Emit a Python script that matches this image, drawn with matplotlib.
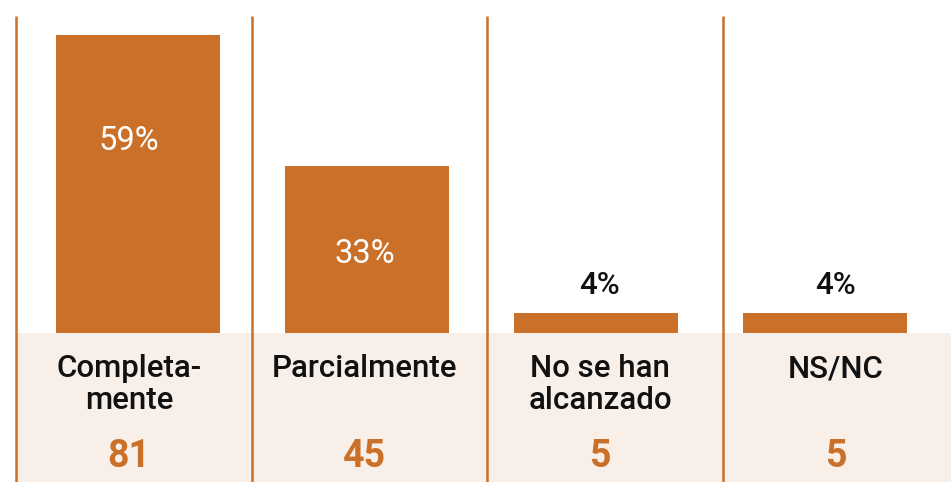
import numpy as np
import matplotlib
matplotlib.use('Agg')
import matplotlib.pyplot as plt

categories = ['Completa-\nmente', 'Parcialmente', 'No se han\nalcanzado', 'NS/NC']
percents = [59, 33, 4, 4]
counts = [81, 45, 5, 5]

ORANGE = '#CA7029'
BAND = '#F9EFE9'

fig = plt.figure(figsize=(9.51, 4.82), dpi=100)
ax = fig.add_axes([0, 0, 1, 1])

# panel i spans [i, i+1]; px per panel = 235.5, px per percent = 5.05
px_x = 235.5
px_y = 5.05
ax.set_xlim(-16 / px_x, (951 - 16) / px_x)
ax.set_ylim(-149 / px_y, (482 - 149) / px_y)
ax.axis('off')

# beige band below the baseline
ax.axhspan(-149 / px_y, 0, xmin=17 / 951, xmax=1, color=BAND, lw=0, zorder=0)

# separators
for i in range(len(categories)):
    ax.plot([i, i], [-149 / px_y, (482 - 149 - 16) / px_y], color=ORANGE, lw=1.8,
            solid_capstyle='butt', zorder=2)

idx = np.arange(len(categories))
bar_x = 122 / px_x + idx * 229 / px_x
ax.bar(bar_x, percents, width=164 / px_x, color=ORANGE, zorder=3)

text_x = idx + 113 / px_x
for i, (p, n, c) in enumerate(zip(percents, counts, categories)):
    if p > 20:
        ypos = p * 0.475 if p < 40 else p * 0.645
        ax.text(text_x[i], ypos, f'{p}%', ha='center', va='center', color='white',
                fontsize=23.5, family='Roboto', zorder=4)
    else:
        ax.text(text_x[i], p + 5.5, f'{p}%', ha='center', va='center', color='#111111',
                fontsize=22.5, family='Roboto', fontweight='medium', zorder=4)
    ax.text(text_x[i], -4.2, c, ha='center', va='top', color='#111111',
            fontsize=22.5, family='Roboto', fontweight='medium', linespacing=1.1,
            zorder=4)
    ax.text(text_x[i], -24.4, str(n), ha='center', va='center', color=ORANGE,
            fontsize=27, family='Roboto', fontweight='bold', zorder=4)

fig.savefig('out.png', dpi=100)
